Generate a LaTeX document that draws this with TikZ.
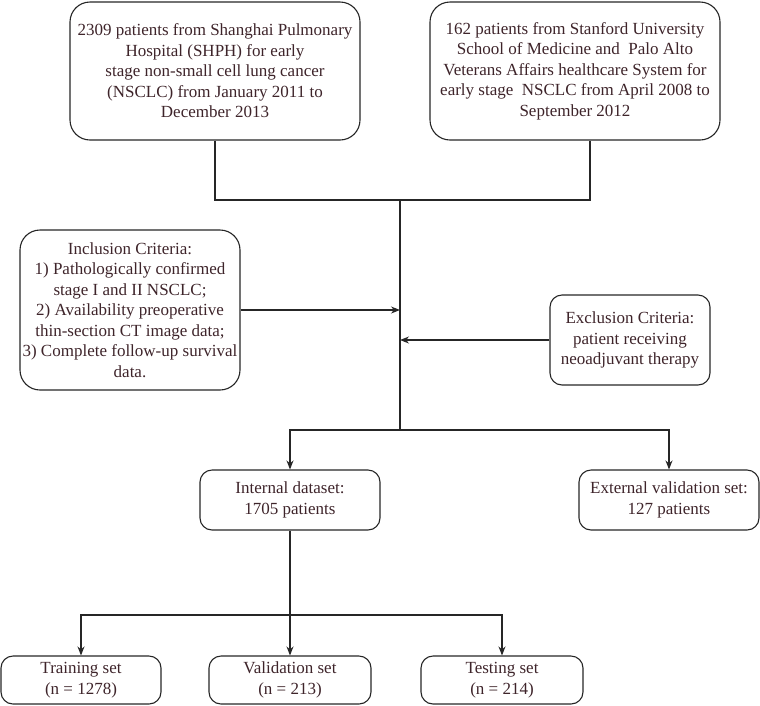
\documentclass[tikz,border=0pt]{standalone}
\usepackage{fontspec}
\setmainfont{Liberation Serif}
\usetikzlibrary{arrows.meta}

\definecolor{txtbrown}{RGB}{62,36,42}

\tikzset{
  box/.style={draw=black!85, line width=1.1pt, rounded corners=20pt,
    align=center, text=txtbrown, inner sep=0pt,
    font=\fontsize{17}{20.5}\selectfont},
  smallbox/.style={box, rounded corners=12pt},
  arr/.style={-{Stealth[length=9pt,width=7pt]}},
}

\begin{document}
\begin{tikzpicture}[x=1pt, y=-1pt, line width=1.1pt, draw=black!85]

  \useasboundingbox (0,0) rectangle (760,705);

  \node[box, minimum width=290pt, minimum height=138pt] (shph) at (215,71)
    {2309 patients from Shanghai Pulmonary\\Hospital (SHPH) for early\\stage non-small cell lung cancer\\(NSCLC) from January 2011 to\\December 2013};

  \node[box, minimum width=290pt, minimum height=138pt] (stan) at (575,71)
    {162 patients from Stanford University\\School of Medicine and\ \ Palo Alto\\Veterans Affairs healthcare System for\\early stage\ \ NSCLC from April 2008 to\\September 2012};

  \node[box, minimum width=220pt, minimum height=160pt] (incl) at (130,310)
    {Inclusion Criteria:\\1) Pathologically confirmed\\stage I and II NSCLC;\\2) Availability preoperative\\thin-section CT image data;\\3) Complete follow-up survival\\data.};

  \node[smallbox, minimum width=160pt, minimum height=90pt] (excl) at (630,340)
    {Exclusion Criteria:\\patient receiving\\neoadjuvant therapy};

  \node[smallbox, minimum width=180pt, minimum height=60pt] (intl) at (290,500)
    {Internal dataset:\\1705 patients};

  \node[smallbox, minimum width=180pt, minimum height=60pt] (extl) at (669,500)
    {External validation set:\\127 patients};

  \node[smallbox, minimum width=160pt, minimum height=48pt] (train) at (81,680)
    {Training set\\(n = 1278)};

  \node[smallbox, minimum width=162pt, minimum height=48pt] (valid) at (290,680)
    {Validation set\\(n = 213)};

  \node[smallbox, minimum width=162pt, minimum height=48pt] (test) at (502,680)
    {Testing set\\(n = 214)};

  \coordinate (j1) at (400,200);
  \coordinate (j2) at (400,430);
  \coordinate (j3) at (290,615);

  % Arrows
  \draw (shph.south) |- (j1);
  \draw ([xshift=15pt]stan.south) |- (j1);
  \draw (j1) -- (j2);
  \draw[arr] (incl.east) -- (incl.east -| j1);
  \draw[arr] (excl.west) -- (excl.west -| j1);
  \draw[arr] (j2) -| (intl);
  \draw[arr] (j2) -| (extl);
  \draw (intl) -- (j3);
  \draw[arr] (j3) -- (valid);
  \draw[arr] (j3) -| (train);
  \draw[arr] (j3) -| (test);

\end{tikzpicture}
\end{document}
